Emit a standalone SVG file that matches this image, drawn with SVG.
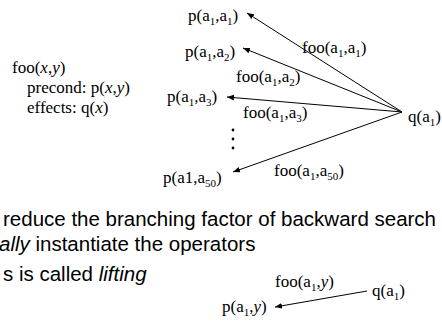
<svg xmlns="http://www.w3.org/2000/svg" width="442" height="323" viewBox="0 0 442 323">
<defs>
<style>
.t{font-family:"Liberation Serif","Times New Roman",serif;font-size:17px;fill:#000}
.s{font-size:11px}
.i{font-style:italic}
.b{font-family:"Liberation Sans",Arial,sans-serif;font-size:20.5px;fill:#000}
.e{stroke:#000;stroke-width:1;fill:none;marker-end:url(#ah)}
</style>
<marker id="ah" viewBox="0 0 10 10" refX="10" refY="5" markerWidth="7" markerHeight="7" markerUnits="userSpaceOnUse" orient="auto">
<path d="M0,1 L10,5 L0,9 Z" fill="#000"/>
</marker>
</defs>
<rect width="442" height="323" fill="#fff"/>
<g id="connectors">
<line class="e" x1="402" y1="112" x2="247" y2="13"/>
<line class="e" x1="402" y1="112" x2="243" y2="48"/>
<line class="e" x1="402" y1="112" x2="227" y2="97"/>
<line class="e" x1="402" y1="112" x2="233" y2="172"/>
<line class="e" x1="367" y1="291" x2="275" y2="307"/>
</g>
<g id="operator">
<text class="t" x="12" y="73">foo(<tspan class="i">x</tspan>,<tspan class="i">y</tspan>)</text>
<text class="t" x="27" y="93">precond: p(<tspan class="i">x</tspan>,<tspan class="i">y</tspan>)</text>
<text class="t" x="27" y="113">effects: q(<tspan class="i">x</tspan>)</text>
</g>
<g id="p11"><text class="t" x="188" y="21">p(a<tspan class="s" dy="4">1</tspan><tspan dy="-4">,a</tspan><tspan class="s" dy="4">1</tspan><tspan dy="-4">)</tspan></text></g>
<g id="p12"><text class="t" x="185" y="57">p(a<tspan class="s" dy="4">1</tspan><tspan dy="-4">,a</tspan><tspan class="s" dy="4">2</tspan><tspan dy="-4">)</tspan></text></g>
<g id="p13"><text class="t" x="167" y="102">p(a<tspan class="s" dy="4">1</tspan><tspan dy="-4">,a</tspan><tspan class="s" dy="4">3</tspan><tspan dy="-4">)</tspan></text></g>
<g id="p150"><text class="t" x="163" y="183">p(a1,a<tspan class="s" dy="4">50</tspan><tspan dy="-4">)</tspan></text></g>
<g id="dots">
<circle cx="233" cy="130" r="1.4"/>
<circle cx="233" cy="139" r="1.4"/>
<circle cx="233" cy="148" r="1.4"/>
</g>
<g id="q1"><text class="t" x="408" y="122">q(a<tspan class="s" dy="4">1</tspan><tspan dy="-4">)</tspan></text></g>
<g id="labels">
<text class="t" x="302" y="53">foo(a<tspan class="s" dy="4">1</tspan><tspan dy="-4">,a</tspan><tspan class="s" dy="4">1</tspan><tspan dy="-4">)</tspan></text>
<text class="t" x="236" y="82">foo(a<tspan class="s" dy="4">1</tspan><tspan dy="-4">,a</tspan><tspan class="s" dy="4">2</tspan><tspan dy="-4">)</tspan></text>
<text class="t" x="243" y="118">foo(a<tspan class="s" dy="4">1</tspan><tspan dy="-4">,a</tspan><tspan class="s" dy="4">3</tspan><tspan dy="-4">)</tspan></text>
<text class="t" x="274" y="176">foo(a<tspan class="s" dy="4">1</tspan><tspan dy="-4">,a</tspan><tspan class="s" dy="4">50</tspan><tspan dy="-4">)</tspan></text>
<text class="t" x="275" y="287">foo(a<tspan class="s" dy="4">1</tspan><tspan dy="-4">,</tspan><tspan class="i">y</tspan>)</text>
</g>
<g id="text-block">
<text class="b" x="3" y="226">reduce the branching factor of backward search</text>
<text class="b" x="-1" y="251"><tspan class="i">ally</tspan> instantiate the operators</text>
<text class="b" x="3" y="281">s is called <tspan class="i">lifting</tspan></text>
</g>
<g id="q1b"><text class="t" x="372" y="296">q(a<tspan class="s" dy="4">1</tspan><tspan dy="-4">)</tspan></text></g>
<g id="p1y"><text class="t" x="222" y="312">p(a<tspan class="s" dy="4">1</tspan><tspan dy="-4">,</tspan><tspan class="i">y</tspan>)</text></g>
</svg>
